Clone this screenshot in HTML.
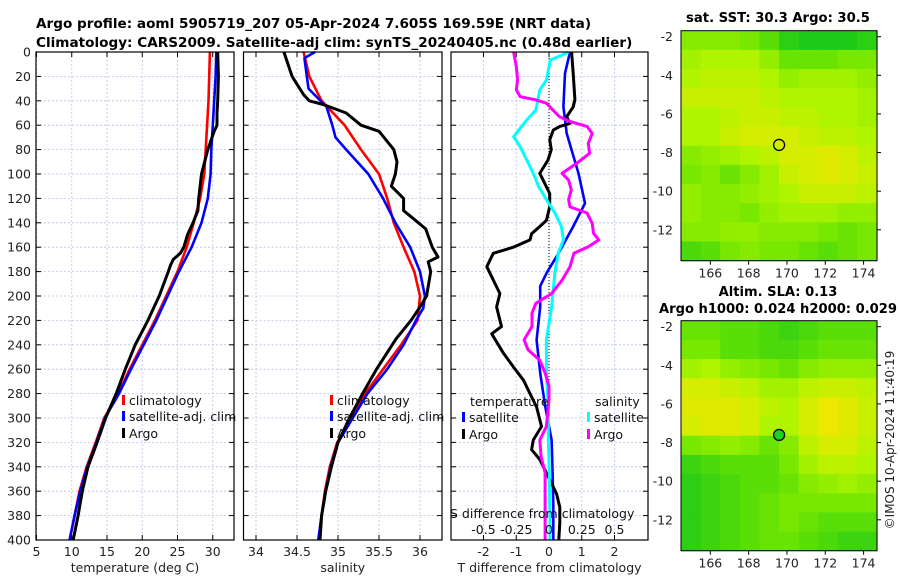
<!DOCTYPE html>
<html><head><meta charset="utf-8"><style>
body{margin:0;background:#fff;width:900px;height:580px;overflow:hidden}
svg{display:block;font-family:"DejaVu Sans","Liberation Sans",sans-serif}
</style></head><body>
<svg id="fig" width="900" height="580" viewBox="0 0 900 580" xmlns="http://www.w3.org/2000/svg">
<text x="36" y="28" font-size="13.6" font-weight="bold">Argo profile: aoml 5905719_207 05-Apr-2024 7.605S 169.59E (NRT data)</text>
<text x="36" y="47" font-size="13.6" font-weight="bold">Climatology: CARS2009. Satellite-adj clim: synTS_20240405.nc (0.48d earlier)</text>
<text x="778" y="22" font-size="13.2" font-weight="bold" text-anchor="middle">sat. SST: 30.3 Argo: 30.5</text>
<text x="778" y="296" font-size="13.1" font-weight="bold" text-anchor="middle">Altim. SLA: 0.13</text>
<text x="778" y="313" font-size="13.1" font-weight="bold" text-anchor="middle">Argo h1000: 0.024 h2000: 0.029</text>
<text transform="translate(894,440) rotate(-90)" font-size="12" text-anchor="middle" fill="#222">©IMOS 10-Apr-2024 11:40:19</text>
</svg>
<script>
// ---------- data ----------
const depthTicks=[0,20,40,60,80,100,120,140,160,180,200,220,240,260,280,300,320,340,360,380,400];
const tempTicks=[5,10,15,20,25,30];
const salTicks=[34,34.5,35,35.5,36];
const salTickLabels=["34","34.5","35","35.5","36"];
const tdiffTicks=[-2,-1,0,1,2];
const sdiffTicks=[-0.5,-0.25,0,0.25,0.5];
const sdiffTickLabels=["-0.5","-0.25","0","0.25","0.5"];

const climDepth=[0,20,40,60,80,100,120,140,160,180,200,220,240,260,280,300,320,340,360,380,400];
const tempClim=[29.6,29.5,29.4,29.2,29.0,28.8,28.2,27.3,26.3,25.0,23.4,21.8,20.0,18.2,16.6,14.6,13.4,12.1,11.1,10.4,9.7];
const tempSat=[30.5,30.4,30.2,30.0,29.8,29.7,29.3,28.4,27.0,25.2,23.6,22.0,20.2,18.4,16.7,14.7,13.5,12.2,11.2,10.4,9.7];
const argoTDepth=[0,20,40,50,60,65,80,100,120,130,140,150,160,165,170,175,180,200,220,240,260,280,300,320,340,360,380,400];
const tempArgo=[30.7,30.8,30.7,30.6,30.6,30.2,29.3,28.4,28.0,27.9,27.2,26.4,25.9,25.4,24.4,24.0,23.7,22.4,20.8,19.0,17.6,16.3,14.8,13.6,12.3,11.5,10.9,10.2];

const salSatDepth=[0,5,30,45,60,70,80,100,120,140,160,180,200,210,220,240,260,280,300,320,340,360,380,400];
const salSat=[34.72,34.59,34.64,34.86,34.93,34.97,35.1,35.37,35.55,35.7,35.88,36.0,36.06,36.04,35.95,35.8,35.6,35.36,35.18,35.0,34.91,34.85,34.8,34.76];
const salClim=[34.58,34.65,34.8,35.08,35.28,35.5,35.6,35.68,35.8,35.93,36.0,35.97,35.77,35.55,35.33,35.17,34.99,34.9,34.84,34.8,34.76];
const argoSDepth=[0,20,35,40,43,50,60,65,80,90,100,110,120,130,135,145,160,168,172,180,200,210,220,235,260,280,300,320,340,360,380,400];
const salArgo=[34.34,34.44,34.58,34.65,34.82,35.1,35.28,35.5,35.68,35.72,35.7,35.65,35.8,35.8,35.89,36.07,36.15,36.22,36.1,36.13,36.08,35.99,35.89,35.71,35.47,35.3,35.14,35.0,34.92,34.85,34.8,34.78];

const tdSatDepth=[0,17.5,44.8,66.7,99.5,124,143,165,181,192,209,236,263,290,318,345,372,400];
const tdSat=[0.64,0.49,0.44,0.54,0.90,1.10,0.74,0.29,-0.07,-0.27,-0.27,-0.38,-0.27,-0.12,0.08,0.11,0.13,0.13];
const tdArgoDepth=[0,17.5,39,45,53,58.5,61,64,72,80,88.5,99.5,105,116,127,138,143,149,154,160,165,176,198,209,225,231,247,258,269,280,291,307,318,326,334,345,362,373,386,400];
const tdArgo=[0.69,0.74,0.79,0.74,0.54,0.64,0.33,0.13,0.02,0.07,-0.03,-0.28,-0.18,0.02,0.02,-0.08,-0.28,-0.53,-0.58,-1.09,-1.7,-1.9,-1.5,-1.6,-1.45,-1.75,-1.39,-1.09,-0.78,-0.58,-0.38,-0.23,-0.48,-0.53,-0.28,-0.08,0.23,0.33,0.33,0.3];
const sdSatDepth=[0,6.6,23,31,47.5,55.7,69.4,77.6,88.5,99.5,110,121,132,143,154,165,181,209,236,263,290,318,345,386,400];
const sdSat=[0.15,0.01,-0.02,-0.07,-0.1,-0.17,-0.27,-0.22,-0.17,-0.12,-0.08,-0.02,0.045,0.095,0.11,0.07,0.045,0.02,-0.02,-0.02,-0.005,-0.005,0.002,0.008,0.008];
const sdArgoDepth=[0,12,23,31,36.6,39.3,42,47.5,53,57,61,66.7,74.9,83,91.3,99.5,105,113,121,127,132,140.4,148.6,154,159.6,165,176,187,198,206,214,225,236,244,252.7,263,274,285,296,307,318,331.7,345,372.6,400];
const sdArgo=[-0.27,-0.25,-0.24,-0.25,-0.22,-0.1,-0.02,0.03,0.08,0.16,0.29,0.33,0.3,0.31,0.21,0.1,0.15,0.17,0.15,0.16,0.29,0.33,0.34,0.38,0.3,0.19,0.16,0.1,0.02,-0.1,-0.13,-0.13,-0.19,-0.16,-0.07,-0.03,0,0,-0.01,-0.02,-0.07,-0.06,-0.03,-0.03,-0.03];

const lonTicks=[166,168,170,172,174];
const latTicks=[-2,-4,-6,-8,-10,-12];
const sstGrid=[
[0.45,0.45,0.45,0.4,0.3,0.15,0.1,0.1,0.1,0.15],
[0.55,0.6,0.6,0.6,0.5,0.35,0.35,0.35,0.4,0.4],
[0.6,0.65,0.65,0.65,0.6,0.5,0.55,0.55,0.55,0.5],
[0.7,0.7,0.7,0.7,0.65,0.6,0.6,0.6,0.6,0.55],
[0.6,0.6,0.65,0.7,0.7,0.65,0.65,0.6,0.6,0.55],
[0.6,0.6,0.7,0.75,0.75,0.75,0.7,0.65,0.65,0.6],
[0.45,0.5,0.55,0.6,0.65,0.75,0.75,0.8,0.75,0.65],
[0.4,0.45,0.35,0.45,0.55,0.7,0.75,0.8,0.75,0.7],
[0.5,0.45,0.45,0.5,0.55,0.6,0.7,0.7,0.7,0.65],
[0.5,0.45,0.45,0.4,0.5,0.55,0.55,0.55,0.5,0.5],
[0.45,0.45,0.5,0.5,0.45,0.45,0.45,0.4,0.35,0.4],
[0.25,0.3,0.4,0.45,0.4,0.4,0.35,0.3,0.35,0.4]];
const slaGrid=[
[0.35,0.35,0.3,0.3,0.25,0.2,0.25,0.3,0.3,0.3],
[0.4,0.4,0.3,0.3,0.25,0.25,0.3,0.35,0.35,0.35],
[0.55,0.6,0.5,0.45,0.4,0.35,0.45,0.5,0.5,0.5],
[0.75,0.75,0.7,0.65,0.55,0.55,0.65,0.7,0.7,0.65],
[0.8,0.8,0.8,0.75,0.65,0.6,0.75,0.85,0.8,0.7],
[0.75,0.8,0.8,0.75,0.6,0.6,0.75,0.85,0.8,0.7],
[0.4,0.45,0.5,0.45,0.35,0.45,0.65,0.75,0.75,0.65],
[0.2,0.25,0.3,0.3,0.3,0.4,0.55,0.65,0.65,0.6],
[0.15,0.2,0.25,0.3,0.3,0.35,0.45,0.5,0.55,0.5],
[0.15,0.2,0.25,0.3,0.35,0.4,0.4,0.4,0.4,0.4],
[0.15,0.2,0.25,0.3,0.35,0.4,0.35,0.3,0.3,0.3],
[0.15,0.2,0.25,0.3,0.35,0.35,0.3,0.25,0.2,0.2]];
const argoLon=169.59, argoLat=-7.605;

// ---------- helpers ----------
const NS="http://www.w3.org/2000/svg";
const svg=document.getElementById('fig');
function mk(tag,attrs,parent){const e=document.createElementNS(NS,tag);for(const k in attrs)e.setAttribute(k,attrs[k]);(parent||svg).appendChild(e);return e;}
const Y0=52,Y1=540;
const yD=d=>Y0+d*(Y1-Y0)/400;
const xT=t=>36.5+(t-5)*7.05;
const xS=s=>256+(s-34)*82;
const xTD=v=>549+v*32.75;
const xSD=v=>xTD(v*4);

function panel(name,x0,x1,ticks,xf,labels,xlabel,showY){
  const g=mk('g',{});
  
  
  depthTicks.forEach(d=>{
    const l=mk('line',{x1:x0,x2:x1,y1:yD(d),y2:yD(d),stroke:'#b8c4e6','stroke-width':0.8,'stroke-dasharray':'2,2'},g);
    
    
    mk('line',{x1:x0,x2:x0+5,y1:yD(d),y2:yD(d),stroke:'#000'},g);
    mk('line',{x1:x1-5,x2:x1,y1:yD(d),y2:yD(d),stroke:'#000'},g);
    if(showY){const t=mk('text',{x:x0-5,y:yD(d)+4.5,'font-size':12.5,'text-anchor':'end',fill:'#222'},g);t.textContent=d;
      
      }
  });
  ticks.forEach((v,i)=>{
    const x=xf(v);
    const l=mk('line',{x1:x,x2:x,y1:Y0,y2:Y1,stroke:'#b8c4e6','stroke-width':0.8,'stroke-dasharray':'2,2'},g);
    
    
    mk('line',{x1:x,x2:x,y1:Y1-5,y2:Y1,stroke:'#000'},g);
    mk('line',{x1:x,x2:x,y1:Y0,y2:Y0+5,stroke:'#000'},g);
    const t=mk('text',{x:x,y:556,'font-size':12.5,'text-anchor':'middle',fill:'#222'},g);t.textContent=labels[i];
    
    
  });
  const xl=mk('text',{x:(x0+x1)/2,y:572,'font-size':12.5,'text-anchor':'middle',fill:'#222'},g);xl.textContent=xlabel;
  
  
  return g;
}
function line(g,name,depths,vals,xf,color,w){
  const p=depths.map((d,i)=>xf(vals[i]).toFixed(1)+','+yD(d).toFixed(1)).join(' ');
  const pl=mk('polyline',{points:p,fill:'none',stroke:color,'stroke-width':w||2.6,'stroke-linejoin':'round'},g);
  
  
}
function frame(g,x0,x1){mk('rect',{x:x0,y:Y0,width:x1-x0,height:Y1-Y0,fill:'none',stroke:'#000','stroke-width':1.2},g);}
function legend(g,x,y,color,label,name){
  mk('rect',{x:x,y:y-10,width:3,height:10,fill:color},g);
  const t=mk('text',{x:x+7,y:y,'font-size':12.5,fill:'#111'},g);t.textContent=label;
  
  
}

// panel 1: temperature
const p1=panel('temperature-panel',36,234,tempTicks,xT,tempTicks.map(String),'temperature (deg C)',true);
line(p1,'temp-climatology-line',climDepth,tempClim,xT,'#f00');
line(p1,'temp-satellite-line',climDepth,tempSat,xT,'#00f');
line(p1,'temp-argo-line',argoTDepth,tempArgo,xT,'#000',3);
frame(p1,36,234);
legend(p1,122,405,'#f00','climatology','legend-climatology');
legend(p1,122,421,'#00f','satellite-adj. clim','legend-satellite');
legend(p1,122,438,'#000','Argo','legend-argo');

// panel 2: salinity
const p2=panel('salinity-panel',243.5,442,salTicks,xS,salTickLabels,'salinity',false);
line(p2,'sal-climatology-line',climDepth,salClim,xS,'#f00');
line(p2,'sal-satellite-line',salSatDepth,salSat,xS,'#00f');
line(p2,'sal-argo-line',argoSDepth,salArgo,xS,'#000',3);
frame(p2,243.5,442);
legend(p2,330,405,'#f00','climatology','legend-climatology');
legend(p2,330,421,'#00f','satellite-adj. clim','legend-satellite');
legend(p2,330,438,'#000','Argo','legend-argo');

// panel 3: differences
const p3=panel('difference-panel',451,648,tdiffTicks,xTD,tdiffTicks.map(String),'T difference from climatology',false);
mk('line',{x1:xTD(0),x2:xTD(0),y1:Y0,y2:Y1,stroke:'#000','stroke-width':1,'stroke-dasharray':'1,2'},p3);
line(p3,'tdiff-satellite-line',tdSatDepth,tdSat,xTD,'#00f');
line(p3,'tdiff-argo-line',tdArgoDepth,tdArgo,xTD,'#000',3);
line(p3,'sdiff-satellite-line',sdSatDepth,sdSat,xSD,'#0ff',3);
line(p3,'sdiff-argo-line',sdArgoDepth,sdArgo,xSD,'#f0f',3);
frame(p3,451,648);
(function(){const t=mk('text',{x:470,y:406,'font-size':12.5,fill:'#111'},p3);t.textContent='temperature';
 
 
 const s=mk('text',{x:595,y:406,'font-size':12.5,fill:'#111'},p3);s.textContent='salinity';
 
 })();
legend(p3,462,422,'#00f','satellite','legend-t-satellite');
legend(p3,462,439,'#000','Argo','legend-t-argo');
legend(p3,587,422,'#0ff','satellite','legend-s-satellite');
legend(p3,587,439,'#f0f','Argo','legend-s-argo');
(function(){const t=mk('text',{x:450,y:518,'font-size':12.5,fill:'#111'},p3);t.textContent='S difference from climatology';
 
 
 sdiffTicks.forEach((v,i)=>{const l=mk('text',{x:xSD(v),y:534,'font-size':12.5,'text-anchor':'middle',fill:'#111'},p3);l.textContent=sdiffTickLabels[i];
  
  });})();

// maps
const LON0=164.47,LON1=174.7,LAT0=-1.69,LAT1=-13.6;
function cmap(v){
  const stops=[[0,[0,192,32]],[0.4,[120,232,0]],[0.6,[176,244,0]],[0.85,[236,232,0]],[1,[248,196,0]]];
  for(let i=1;i<stops.length;i++){if(v<=stops[i][0]){const a=stops[i-1],b=stops[i],f=(v-a[0])/(b[0]-a[0]);
    return 'rgb('+a[1].map((c,j)=>Math.round(c+(b[1][j]-c)*f)).join(',')+')';}}
  return 'rgb(248,196,0)';
}
function map(name,grid,top,bot,filled){
  const g=mk('g',{});
  
  
  const L=681,R=877;
  const xL=lon=>L+(lon-LON0)*(R-L)/(LON1-LON0);
  const yL=lat=>top+(lat-LAT0)*(bot-top)/(LAT1-LAT0);
  const rows=grid.length,cols=grid[0].length;
  const cw=(R-L)/cols,ch=(bot-top)/rows;
  grid.forEach((row,r)=>row.forEach((v,c)=>{
    const cell=mk('rect',{x:(L+c*cw).toFixed(2),y:(top+r*ch).toFixed(2),width:(cw+0.6).toFixed(2),height:(ch+0.6).toFixed(2),fill:cmap(v)},g);
    
    
  }));
  mk('rect',{x:L,y:top,width:R-L,height:bot-top,fill:'none',stroke:'#000','stroke-width':1},g);
  lonTicks.forEach(v=>{const x=xL(v);mk('line',{x1:x,x2:x,y1:bot,y2:bot+4,stroke:'#000'},g);
    const t=mk('text',{x:x,y:bot+17,'font-size':12.5,'text-anchor':'middle',fill:'#222'},g);t.textContent=v;
    
    });
  latTicks.forEach(v=>{const y=yL(v);mk('line',{x1:R,x2:R+4,y1:y,y2:y,stroke:'#000'},g);
    const t=mk('text',{x:673,y:y+4.5,'font-size':12.5,'text-anchor':'end',fill:'#222'},g);t.textContent=v;
    
    });
  const c=mk('circle',{cx:xL(argoLon),cy:yL(argoLat),r:5.5,fill:filled?'#20d020':'none',stroke:'#000','stroke-width':1.3},g);
  
  
}
map('sst-map',sstGrid,30.7,260.7,false);
map('sla-map',slaGrid,320.7,550.7,true);
</script>
</body></html>
